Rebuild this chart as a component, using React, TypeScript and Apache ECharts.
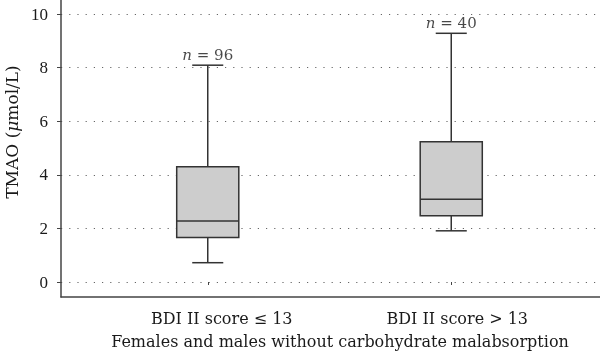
import React, { useEffect, useRef } from "react";
import * as echarts from "echarts";

const categories = ["BDI II score ≤ 13", "BDI II score > 13"];
// [min, Q1, median, Q3, max]
const boxValues = [
  [0.72, 1.66, 2.28, 4.3, 8.09],
  [1.91, 2.47, 3.09, 5.23, 9.28],
];
const sampleSizes = [96, 40];
const yMin = 0;
const yMax = 10;
const yStep = 2;
const yTitle = "TMAO";
const yUnit = "mol/L";
const xTitle = "Females and males without carbohydrate malabsorption";

const NUM_FONT = "Liberation Serif";
const FONT = "DejaVu Serif";
const TXT = "#1a1a1a";
const LINE = "#333";

export default function App() {
  const ref = useRef<HTMLDivElement>(null);
  useEffect(() => {
    if (!ref.current) return;
    const chart = echarts.init(ref.current, null, { renderer: "svg" });
    chart.setOption({
      animation: false,
      textStyle: { fontFamily: FONT },
      grid: [
        { left: 61, right: 0, top: 14, bottom: 78 },
        { left: 86, right: 27, top: 14, bottom: 78 },
        { left: 61, right: 0, top: 0, bottom: 63 },
      ],
      xAxis: [
        { gridIndex: 0, type: "value", show: false, min: 0, max: 1 },
        {
          gridIndex: 1,
          type: "category",
          data: categories,
          offset: 16,
          axisLine: { show: false },
          axisTick: { show: true, alignWithLabel: true, length: 3, lineStyle: { color: "#444" } },
          axisLabel: {
            color: TXT,
            fontSize: 16,
            fontFamily: FONT,
            margin: 12,
            formatter: (v: string, i: number) => `{l${i}|${v}}`,
            rich: {
              l0: { padding: [0, 0, 0, 28], fontSize: 16, fontFamily: FONT, color: TXT },
              l1: { padding: [0, 0, 0, 12], fontSize: 16, fontFamily: FONT, color: TXT },
            },
          },
        },
        {
          gridIndex: 2,
          type: "value",
          min: 0,
          max: 1,
          axisLine: { show: true, onZero: false, lineStyle: { color: "#444", width: 1.5 } },
          axisTick: { show: false },
          axisLabel: { show: false },
          splitLine: { show: false },
        },
      ],
      yAxis: [
        {
          gridIndex: 0,
          type: "value",
          min: yMin,
          max: yMax,
          interval: yStep,
          axisLine: { show: false },
          axisTick: { show: true, length: 4, lineStyle: { color: "#444" } },
          axisLabel: { color: TXT, fontSize: 17, fontFamily: NUM_FONT, margin: 13 },
          splitLine: { show: true, lineStyle: { color: "#666", type: [1.2, 7], width: 1 } },
        },
        { gridIndex: 1, type: "value", min: yMin, max: yMax, show: false },
        {
          gridIndex: 2,
          type: "value",
          min: 0,
          max: 1,
          axisLine: { show: true, onZero: false, lineStyle: { color: "#444", width: 1.5 } },
          axisTick: { show: false },
          axisLabel: { show: false },
          splitLine: { show: false },
        },
      ],
      series: [
        {
          type: "custom",
          xAxisIndex: 1,
          yAxisIndex: 1,
          data: boxValues.map((b, i) => [i, ...b]),
          encode: { x: 0, y: [1, 2, 3, 4, 5] },
          renderItem: (params: any, api: any) => {
            const idx = api.value(0);
            const band = api.size([1, 0])[0];
            const half = (band * 0.255) / 2;
            const capHalf = half / 2;
            const pMin = api.coord([idx, api.value(1)]);
            const pQ1 = api.coord([idx, api.value(2)]);
            const pMed = api.coord([idx, api.value(3)]);
            const pQ3 = api.coord([idx, api.value(4)]);
            const pMax = api.coord([idx, api.value(5)]);
            const cx = pMed[0];
            const ls = { stroke: LINE, lineWidth: 1.5 };
            return {
              type: "group",
              children: [
                { type: "line", shape: { x1: cx, y1: pMin[1], x2: cx, y2: pQ1[1] }, style: ls },
                { type: "line", shape: { x1: cx, y1: pQ3[1], x2: cx, y2: pMax[1] }, style: ls },
                { type: "line", shape: { x1: cx - capHalf, y1: pMin[1], x2: cx + capHalf, y2: pMin[1] }, style: ls },
                { type: "line", shape: { x1: cx - capHalf, y1: pMax[1], x2: cx + capHalf, y2: pMax[1] }, style: ls },
                {
                  type: "rect",
                  shape: { x: cx - half, y: pQ3[1], width: half * 2, height: pQ1[1] - pQ3[1] },
                  style: { fill: "#cdcdcd", stroke: LINE, lineWidth: 1.5 },
                },
                { type: "line", shape: { x1: cx - half, y1: pMed[1], x2: cx + half, y2: pMed[1] }, style: ls },
              ],
            };
          },
        },
        {
          type: "scatter",
          xAxisIndex: 1,
          yAxisIndex: 1,
          symbolSize: 0,
          data: categories.map((c, i) => [i, boxValues[i][4], sampleSizes[i]]),
          label: {
            show: true,
            position: "top",
            distance: 3,
            color: TXT,
            fontSize: 15,
            fontFamily: FONT,
            formatter: (p: any) => `{i|n} = ${p.value[2]}`,
            rich: { i: { fontStyle: "italic", fontSize: 15, fontFamily: FONT, color: TXT } },
          },
        },
      ],
      graphic: [
        {
          type: "text",
          x: 340,
          y: 341,
          style: {
            text: xTitle,
            fontSize: 16,
            fontFamily: FONT,
            fill: TXT,
            align: "center",
            verticalAlign: "middle",
          },
        },
        {
          type: "text",
          x: 12,
          y: 132,
          rotation: Math.PI / 2,
          style: {
            text: `${yTitle} ({i|μ}${yUnit})`,
            fontSize: 17,
            fontFamily: FONT,
            fill: TXT,
            align: "center",
            verticalAlign: "middle",
            rich: { i: { fontStyle: "italic", fontSize: 17, fontFamily: FONT, fill: TXT } },
          },
        },
      ],
    });
    return () => chart.dispose();
  }, []);
  return <div ref={ref} style={{ width: 600, height: 360, position: "fixed", left: 0, top: 0 }} />;
}
